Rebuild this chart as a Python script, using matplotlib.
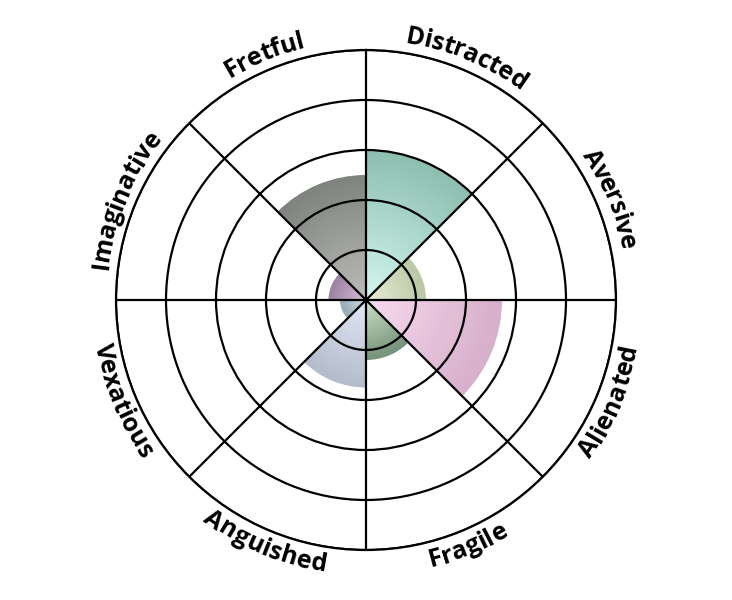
import numpy as np
import matplotlib
matplotlib.use("Agg")
import matplotlib.pyplot as plt
from matplotlib.colors import LinearSegmentedColormap
from matplotlib.font_manager import FontProperties

# categories, clockwise from north
categories = ['Distracted', 'Aversive', 'Alienated', 'Fragile',
              'Anguished', 'Vexatious', 'Imaginative', 'Fretful']
values = [3.0, 1.2, 2.72, 1.2, 1.75, 0.52, 0.75, 2.5]

# gradient colours (centre -> outer edge)
inner_colors = ['#d3f7ef', '#ecedd6', '#f7daf0', '#cfe5cb',
                '#e2e8f6', '#d5e2e8', '#d8c2df', '#bdbdbb']
outer_colors = ['#8ebeb0', '#b9c8a6', '#d6afca', '#76917a',
                '#b3bccb', '#95aab5', '#9b82a0', '#7e837d']

rings = [1, 2, 3, 4, 5]

fig = plt.figure(figsize=(7.32, 6.0), dpi=100)
W, H = 732, 600
cx, cy, R = 366, 300, 250  # pixel centre / radius of the plot
ax = fig.add_axes([(cx - R) / W, (H - cy - R) / H, 2 * R / W, 2 * R / H],
                  projection='polar')
ax.set_theta_zero_location('N')
ax.set_theta_direction(-1)

n = len(categories)
width = 2 * np.pi / n
theta = np.arange(n) * width + width / 2

# plain bars give the smooth outer edge
ax.bar(theta, values, width=width, color=outer_colors, linewidth=0, zorder=1)

# gradient mesh on top, stopping just short of the bar edge
for i, (val, c0, c1) in enumerate(zip(values, inner_colors, outer_colors)):
    t = np.linspace(i * width, (i + 1) * width, 60)
    r = np.linspace(0, val - 0.03, 40)
    T, Rr = np.meshgrid(t, r)
    C = np.tile(((r[:-1] + r[1:]) / 2 / val)[:, None], (1, len(t) - 1))
    cmap = LinearSegmentedColormap.from_list('g%d' % i, [c0, c1])
    ax.pcolormesh(T, Rr, C, cmap=cmap, vmin=0, vmax=1, shading='flat',
                  edgecolors='face', linewidth=0.3, antialiased=False,
                  zorder=1.5)

ax.set_ylim(0, 5)
ax.set_xticks(np.arange(n) * width)
ax.set_xticklabels([])
ax.set_yticks(rings)
ax.set_yticklabels([])
ax.grid(True, color='black', linewidth=1.6)
ax.set_axisbelow(False)
ax.spines['polar'].set_color('black')
ax.spines['polar'].set_linewidth(1.6)

# curved labels, one character at a time
fp = FontProperties(family='Open Sans', weight='bold', size=18)
renderer = fig.canvas.get_renderer()
px_per_unit = R / 5.0
r_mid = 268.0


def tw(s):
    if not s:
        return 0.0
    return renderer.get_text_width_height_descent(s, fp, ismath=False)[0]


for i, label in enumerate(categories):
    phi_c = (i + 0.5) * 360.0 / n
    top = phi_c < 90 or phi_c > 270
    total = tw(label)
    for k, ch in enumerate(label):
        s = tw(label[:k + 1]) - tw(ch) / 2 - total / 2
        dphi = np.rad2deg(s / r_mid)
        if top:
            phi = phi_c + dphi
            rot = -phi
            rb = 260.0
        else:
            phi = phi_c - dphi
            rot = 180 - phi
            rb = 275.0
        ax.text(np.deg2rad(phi), rb / px_per_unit, ch, fontproperties=fp,
                rotation=rot, rotation_mode='anchor', ha='center',
                va='baseline', clip_on=False, color='black')

fig.savefig('out.png', dpi=100)
